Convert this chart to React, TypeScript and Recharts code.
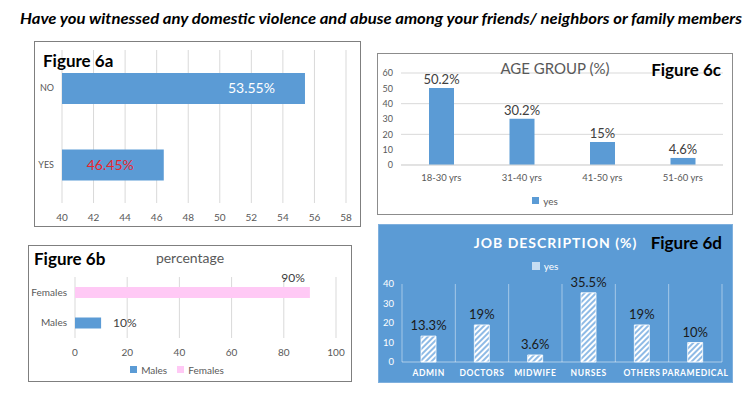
import React from 'react';
import { BarChart, Bar, XAxis, YAxis, CartesianGrid, Legend, LabelList } from 'recharts';

const pageTitle = 'Have you witnessed any domestic violence and abuse among your friends/ neighbors or family members';

// Figure 6a
const witnessCategories = ['NO', 'YES'];
const witnessValues = [55.4, 46.45];
const witnessLabels = ['53.55%', '46.45%'];
const witnessTicks = [40, 42, 44, 46, 48, 50, 52, 54, 56, 58];

// Figure 6b
const genderCategories = ['Females', 'Males'];
const maleValues = [0, 10];
const femaleValues = [90, 0];
const genderTicks = [0, 20, 40, 60, 80, 100];

// Figure 6c
const ageGroups = ['18-30 yrs', '31-40 yrs', '41-50 yrs', '51-60 yrs'];
const ageValues = [50.2, 30.2, 15, 4.6];
const ageTicks = [0, 10, 20, 30, 40, 50, 60];

// Figure 6d
const jobCategories = ['ADMIN', 'DOCTORS', 'MIDWIFE', 'NURSES', 'OTHERS', 'PARAMEDICAL'];
const jobValues = [13.3, 19, 3.6, 35.5, 19, 10];
const jobTicks = [0, 10, 20, 30, 40];

const BLUE = '#5b9bd5';
const PINK = '#ffc9f5';
const GRID = '#d9d9d9';
const TICK = '#595959';
const FONT = 'Lato, "Open Sans", sans-serif';

const witnessData = witnessCategories.map((name, i) => ({ name, value: witnessValues[i], label: witnessLabels[i] }));
const genderData = genderCategories.map((name, i) => ({ name, Males: maleValues[i], Females: femaleValues[i] }));
const ageData = ageGroups.map((name, i) => ({ name, yes: ageValues[i] }));
const jobData = jobCategories.map((name, i) => ({ name, yes: jobValues[i] }));

const figLabel: React.CSSProperties = {
  position: 'absolute',
  fontFamily: 'Lato, sans-serif',
  fontWeight: 700,
  fontSize: 17,
  color: '#000',
  lineHeight: 1,
  whiteSpace: 'nowrap',
};

const renderWitnessLabel = (props: any) => {
  const { x, y, width, height, index } = props;
  const colors = ['#ffffff', '#e8262e'];
  return (
    <text x={x + width - 30} y={y + height / 2} dy="0.35em" textAnchor="end" fontSize={14} fill={colors[index]}>
      {witnessLabels[index]}
    </text>
  );
};

const renderMaleLabel = (props: any) => {
  const { x, y, width, height, value } = props;
  if (!value) return null;
  return (
    <text x={x + width + 12} y={y + height / 2} dy="0.35em" fontSize={12} fill="#404040">
      {value}%
    </text>
  );
};

const renderFemaleLabel = (props: any) => {
  const { x, y, width, value } = props;
  if (!value) return null;
  return (
    <text x={x + width - 5} y={y - 9} dy="0.35em" textAnchor="end" fontSize={12} fill="#404040">
      {value}%
    </text>
  );
};

// category gridlines sit between the bars, like Excel's
const jobGridGenerator = (props: any) => {
  const { offset } = props;
  const n = jobCategories.length;
  return Array.from({ length: n + 1 }, (_, i) => offset.left + (i * offset.width) / n);
};

const genderOrder = ['Males', 'Females'];

export default function App() {
  return (
    <div style={{ position: 'absolute', left: 0, top: 0, width: 750, height: 405, background: '#fff', fontFamily: FONT, overflow: 'hidden' }}>
      <svg width={750} height={36} style={{ position: 'absolute', left: 0, top: 0 }}>
        <text x={20} y={24} fontSize={15} fontWeight="bold" fontStyle="italic" fontFamily="Lato, sans-serif"
          textLength={722} lengthAdjust="spacingAndGlyphs" fill="#000">
          {pageTitle}
        </text>
      </svg>

      {/* Figure 6a */}
      <div style={{ position: 'absolute', left: 34, top: 41, width: 327, height: 186, border: '1.5px solid #7f7f7f', boxSizing: 'border-box' }} />
      <div style={{ position: 'absolute', left: 34, top: 41 }}>
        <BarChart width={327} height={186} data={witnessData} layout="vertical" margin={{ top: 9, right: 15, left: 0, bottom: 0 }}>
          <CartesianGrid horizontal={false} stroke={GRID} />
          <XAxis type="number" domain={[40, 58]} ticks={witnessTicks} allowDataOverflow axisLine={false} tickLine={false}
            height={24} tickMargin={5} tick={{ fontSize: 10, fill: TICK }} />
          <YAxis type="category" dataKey="name" width={28} axisLine={false} tickLine={false} tick={{ fontSize: 9, fill: TICK }} />
          <Bar dataKey="value" fill={BLUE} barSize={31} isAnimationActive={false}>
            <LabelList dataKey="label" content={renderWitnessLabel} />
          </Bar>
        </BarChart>
      </div>
      <div style={{ ...figLabel, left: 43, top: 52 }}>Figure 6a</div>

      {/* Figure 6b */}
      <div style={{ position: 'absolute', left: 28, top: 245, width: 324, height: 137, border: '1.5px solid #7f7f7f', boxSizing: 'border-box' }} />
      <div style={{ position: 'absolute', left: 28, top: 245 }}>
        <BarChart width={324} height={137} data={genderData} layout="vertical" margin={{ top: 32, right: 16, left: 0, bottom: 0 }}>
          <CartesianGrid horizontal={false} stroke={GRID} />
          <XAxis type="number" domain={[0, 100]} ticks={genderTicks} axisLine={false} tickLine={false}
            height={20} tickMargin={5} tick={{ fontSize: 10, fill: TICK }} />
          <YAxis type="category" dataKey="name" width={47} axisLine={false} tickLine={false} tick={{ fontSize: 10, fill: TICK }} />
          <Legend verticalAlign="bottom" height={24} iconType="square" iconSize={7}
            itemSorter={(item: any) => genderOrder.indexOf(item.value)}
            formatter={(v: string) => <span style={{ color: TICK, fontSize: 10 }}>{v}</span>} />
          <Bar dataKey="Males" stackId="g" fill={BLUE} barSize={11} isAnimationActive={false}>
            <LabelList dataKey="Males" content={renderMaleLabel} />
          </Bar>
          <Bar dataKey="Females" stackId="g" fill={PINK} barSize={11} isAnimationActive={false}>
            <LabelList dataKey="Females" content={renderFemaleLabel} />
          </Bar>
        </BarChart>
      </div>
      <div style={{ ...figLabel, left: 34, top: 250 }}>Figure 6b</div>
      <div style={{ position: 'absolute', left: 28, width: 324, top: 251, textAlign: 'center', fontSize: 14, color: TICK, lineHeight: 1 }}>percentage</div>

      {/* Figure 6c */}
      <div style={{ position: 'absolute', left: 377, top: 53, width: 356, height: 162, border: '1.5px solid #8c8c8c', boxSizing: 'border-box' }} />
      <div style={{ position: 'absolute', left: 377, top: 53 }}>
        <BarChart width={356} height={162} data={ageData} margin={{ top: 20, right: 10, left: 0, bottom: 0 }}>
          <CartesianGrid vertical={false} stroke={GRID} />
          <XAxis dataKey="name" axisLine={{ stroke: GRID }} tickLine={false} height={24} tickMargin={3} tick={{ fontSize: 9.5, fill: TICK }} />
          <YAxis domain={[0, 60]} ticks={ageTicks} width={24} axisLine={false} tickLine={false} tick={{ fontSize: 9, fill: TICK }} />
          <Legend verticalAlign="bottom" height={26} iconType="square" iconSize={7}
            formatter={(v: string) => <span style={{ color: TICK, fontSize: 10 }}>{v}</span>} />
          <Bar dataKey="yes" fill={BLUE} barSize={25} isAnimationActive={false}>
            <LabelList dataKey="yes" position="top" offset={4} formatter={(v: any) => `${v}%`} style={{ fontSize: 13, fill: '#404040' }} />
          </Bar>
        </BarChart>
      </div>
      <div style={{ position: 'absolute', left: 377, width: 356, top: 61, textAlign: 'center', fontSize: 15, color: TICK, lineHeight: 1 }}>AGE GROUP (%)</div>
      <div style={{ ...figLabel, right: 750 - 721, top: 61 }}>Figure 6c</div>

      {/* Figure 6d */}
      <div style={{ position: 'absolute', left: 378, top: 224, width: 355, height: 159, background: BLUE, boxShadow: 'inset 0 0 0 1px #7fb0de' }} />
      <div style={{ position: 'absolute', left: 378, top: 224 }}>
        <svg width={0} height={0} style={{ position: 'absolute' }}>
          <defs>
            <pattern id="hatch" patternUnits="userSpaceOnUse" width={4} height={4} patternTransform="rotate(45)">
              <rect width={4} height={4} fill="#8fbbe6" />
              <rect width={2} height={4} fill="#ffffff" />
            </pattern>
          </defs>
        </svg>
        <BarChart width={355} height={159} data={jobData} margin={{ top: 30, right: 11, left: 0, bottom: 0 }}>
          <CartesianGrid horizontal={false} stroke="#ffffff" strokeOpacity={0.45} verticalCoordinatesGenerator={jobGridGenerator} />
          <XAxis dataKey="name" interval={0} axisLine={{ stroke: '#ffffff', strokeOpacity: 0.5 }} tickLine={false} height={21} tickMargin={2}
            tick={{ fontSize: 8.5, fill: '#ffffff', fontWeight: 700, letterSpacing: 0.6 }} />
          <YAxis domain={[0, 40]} ticks={jobTicks} width={24} axisLine={false} tickLine={false} tick={{ fontSize: 9.5, fill: '#ffffff' }} />
          <Legend verticalAlign="top" height={30} iconType="square" iconSize={8}
            formatter={(v: string) => <span style={{ color: '#ffffff', fontSize: 10 }}>{v}</span>} />
          <Bar dataKey="yes" fill="url(#hatch)" stroke="#ffffff" strokeWidth={0.8} barSize={15} isAnimationActive={false}>
            <LabelList dataKey="yes" position="top" offset={6} formatter={(v: any) => `${v}%`} style={{ fontSize: 13, fill: '#1a1a1a' }} />
          </Bar>
        </BarChart>
      </div>
      <div style={{ position: 'absolute', left: 378, width: 355, top: 236, textAlign: 'center', fontSize: 14, fontWeight: 700, color: '#ffffff', letterSpacing: 1, lineHeight: 1 }}>JOB DESCRIPTION (%)</div>
      <div style={{ ...figLabel, right: 750 - 722, top: 234 }}>Figure 6d</div>
    </div>
  );
}
